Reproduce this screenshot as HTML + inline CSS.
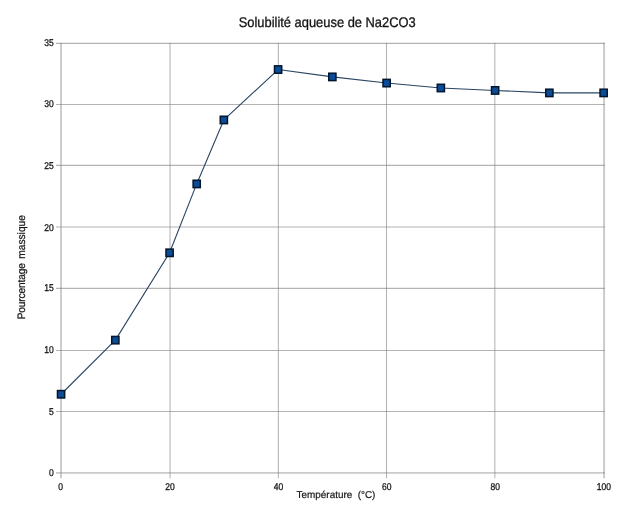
<!DOCTYPE html>
<html lang="fr"><head><meta charset="utf-8"><title>Solubilité aqueuse de Na2CO3</title>
<style>html,body{margin:0;padding:0;background:#fff;}svg{display:block;}text{text-rendering:geometricPrecision;font-family:"Liberation Sans",sans-serif;fill:#161616;}</style></head><body>
<svg width="638" height="512" viewBox="0 0 638 512">
<rect width="638" height="512" fill="#ffffff"/>
<g stroke="#808080" stroke-opacity="0.6" stroke-width="1.05" fill="none">
<line x1="56" y1="411.40" x2="605" y2="411.40"/>
<line x1="56" y1="350.40" x2="605" y2="350.40"/>
<line x1="56" y1="288.35" x2="605" y2="288.35"/>
<line x1="56" y1="226.95" x2="605" y2="226.95"/>
<line x1="56" y1="165.35" x2="605" y2="165.35"/>
<line x1="56" y1="104.55" x2="605" y2="104.55"/>
<line x1="56" y1="43.35" x2="605" y2="43.35"/>
<line x1="170.05" y1="42.7" x2="170.05" y2="478.2"/>
<line x1="278.35" y1="42.7" x2="278.35" y2="478.2"/>
<line x1="386.50" y1="42.7" x2="386.50" y2="478.2"/>
<line x1="494.85" y1="42.7" x2="494.85" y2="478.2"/>
</g>
<g stroke="#808080" stroke-opacity="0.42" stroke-width="1.9" fill="none">
<line x1="61.00" y1="42.7" x2="61.00" y2="478.2"/>
<line x1="604.06" y1="42.7" x2="604.06" y2="478.2"/>
<line x1="56" y1="472.85" x2="605" y2="472.85"/>
</g>
<polyline points="61.07,394.25 115.33,340.13 169.58,252.80 196.71,183.92 223.84,119.96 278.09,69.53 332.35,76.91 386.61,83.06 440.86,87.98 495.12,90.44 549.37,92.90 603.63,92.90" fill="none" stroke="#294563" stroke-width="1.1" stroke-linejoin="round"/>
<rect x="57.47" y="390.55" width="7.2" height="7.4" fill="#0c4b95" stroke="#00162e" stroke-width="1.5"/>
<rect x="111.73" y="336.43" width="7.2" height="7.4" fill="#0c4b95" stroke="#00162e" stroke-width="1.5"/>
<rect x="165.98" y="249.10" width="7.2" height="7.4" fill="#0c4b95" stroke="#00162e" stroke-width="1.5"/>
<rect x="193.11" y="180.22" width="7.2" height="7.4" fill="#0c4b95" stroke="#00162e" stroke-width="1.5"/>
<rect x="220.24" y="116.26" width="7.2" height="7.4" fill="#0c4b95" stroke="#00162e" stroke-width="1.5"/>
<rect x="274.49" y="65.83" width="7.2" height="7.4" fill="#0c4b95" stroke="#00162e" stroke-width="1.5"/>
<rect x="328.75" y="73.21" width="7.2" height="7.4" fill="#0c4b95" stroke="#00162e" stroke-width="1.5"/>
<rect x="383.01" y="79.36" width="7.2" height="7.4" fill="#0c4b95" stroke="#00162e" stroke-width="1.5"/>
<rect x="437.26" y="84.28" width="7.2" height="7.4" fill="#0c4b95" stroke="#00162e" stroke-width="1.5"/>
<rect x="491.52" y="86.74" width="7.2" height="7.4" fill="#0c4b95" stroke="#00162e" stroke-width="1.5"/>
<rect x="545.77" y="89.20" width="7.2" height="7.4" fill="#0c4b95" stroke="#00162e" stroke-width="1.5"/>
<rect x="600.03" y="89.20" width="7.2" height="7.4" fill="#0c4b95" stroke="#00162e" stroke-width="1.5"/>
<text transform="translate(53.7,476.0) scale(0.87,1)" font-size="9.8px" text-anchor="end" stroke="#161616" stroke-width="0.3">0</text>
<text transform="translate(53.7,414.7) scale(0.87,1)" font-size="9.8px" text-anchor="end" stroke="#161616" stroke-width="0.3">5</text>
<text transform="translate(53.7,352.6) scale(0.87,1)" font-size="9.8px" text-anchor="end" stroke="#161616" stroke-width="0.3">10</text>
<text transform="translate(53.7,291.0) scale(0.87,1)" font-size="9.8px" text-anchor="end" stroke="#161616" stroke-width="0.3">15</text>
<text transform="translate(53.7,230.9) scale(0.87,1)" font-size="9.8px" text-anchor="end" stroke="#161616" stroke-width="0.3">20</text>
<text transform="translate(53.7,168.8) scale(0.87,1)" font-size="9.8px" text-anchor="end" stroke="#161616" stroke-width="0.3">25</text>
<text transform="translate(53.7,107.3) scale(0.87,1)" font-size="9.8px" text-anchor="end" stroke="#161616" stroke-width="0.3">30</text>
<text transform="translate(53.7,46.0) scale(0.87,1)" font-size="9.8px" text-anchor="end" stroke="#161616" stroke-width="0.3">35</text>
<text transform="translate(60.60,490) scale(0.87,1)" font-size="9.8px" text-anchor="middle" stroke="#161616" stroke-width="0.3">0</text>
<text transform="translate(170.00,490) scale(0.87,1)" font-size="9.8px" text-anchor="middle" stroke="#161616" stroke-width="0.3">20</text>
<text transform="translate(278.50,490) scale(0.87,1)" font-size="9.8px" text-anchor="middle" stroke="#161616" stroke-width="0.3">40</text>
<text transform="translate(386.75,490) scale(0.87,1)" font-size="9.8px" text-anchor="middle" stroke="#161616" stroke-width="0.3">60</text>
<text transform="translate(495.20,490) scale(0.87,1)" font-size="9.8px" text-anchor="middle" stroke="#161616" stroke-width="0.3">80</text>
<text transform="translate(603.90,490) scale(0.87,1)" font-size="9.8px" text-anchor="middle" stroke="#161616" stroke-width="0.3">100</text>
<text transform="translate(327.2,26.8) scale(0.921,1)" font-size="14px" text-anchor="middle" fill="#0d0d0d" stroke="#0d0d0d" stroke-width="0.3">Solubilité aqueuse de Na2CO3</text>
<text transform="translate(336.0,498.2) scale(0.99,1)" font-size="10px" text-anchor="middle" xml:space="preserve" stroke="#161616" stroke-width="0.2">Température  (°C)</text>
<text transform="translate(25.0,267.25) rotate(-90) scale(0.943,1)" font-size="10.8px" text-anchor="middle" stroke="#161616" stroke-width="0.25" word-spacing="1.9px"><tspan letter-spacing="-0.165px">Pourcentage</tspan> massique</text>
</svg></body></html>
